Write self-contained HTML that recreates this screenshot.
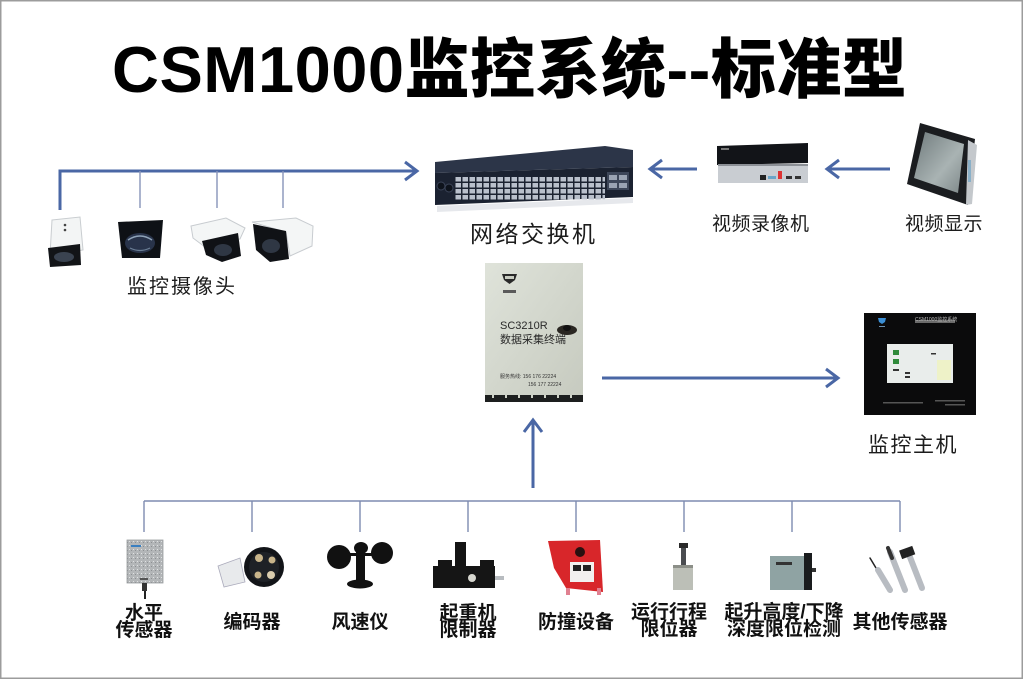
<!DOCTYPE html>
<html><head><meta charset="utf-8">
<style>
html,body{margin:0;padding:0;background:#fff;}
body{width:1024px;height:680px;position:relative;overflow:hidden;font-family:"Liberation Sans","Noto Sans CJK SC",sans-serif;}
.t{position:absolute;white-space:nowrap;color:#1a1a1a;}
.lbl{font-family:"Liberation Sans","Noto Sans CJK SC",sans-serif;font-weight:400;color:#1c1c1c;}
.b{font-family:"Liberation Sans","Noto Sans CJK SC",sans-serif;font-weight:700;color:#111;font-size:19px;line-height:17px;text-align:center;}
svg{position:absolute;left:0;top:0;}
</style></head><body>
<svg width="1024" height="680" viewBox="0 0 1024 680">
<defs>
<pattern id="ports" x="455" y="176" width="7" height="12" patternUnits="userSpaceOnUse">
<rect x="0.5" y="1" width="5.5" height="4.5" fill="#b9c0cc"/>
<rect x="0.5" y="7" width="5.5" height="4.5" fill="#b9c0cc"/>
</pattern>
<linearGradient id="scr" x1="0" y1="0" x2="1" y2="1">
<stop offset="0" stop-color="#6f7a7c"/><stop offset="0.6" stop-color="#a9b3b3"/><stop offset="1" stop-color="#7d8788"/>
</linearGradient>
<linearGradient id="term" x1="0" y1="0" x2="1" y2="1">
<stop offset="0" stop-color="#dfe3da"/><stop offset="1" stop-color="#c6cabf"/>
</linearGradient>
<pattern id="speck" width="4" height="4" patternUnits="userSpaceOnUse">
<rect width="4" height="4" fill="#b3b6b8"/><rect x="1" y="1" width="1" height="1" fill="#e0e2e3"/><rect x="3" y="2" width="1" height="1" fill="#8d9093"/>
</pattern>
</defs>
<!-- border -->
<rect x="0.75" y="0.75" width="1021.5" height="677.5" fill="none" stroke="#9c9c9c" stroke-width="1.5"/>

<!-- camera bus -->
<path d="M60,210 V171 H416" fill="none" stroke="#4a67a5" stroke-width="3"/>
<path d="M405,162 L417,171 L405,180" fill="none" stroke="#4a67a5" stroke-width="3"/>
<g stroke="#8793b8" stroke-width="1.4">
<line x1="140" y1="171" x2="140" y2="208"/>
<line x1="217" y1="171" x2="217" y2="208"/>
<line x1="283" y1="171" x2="283" y2="208"/>
</g>

<!-- cameras -->
<g>
<polygon points="52,220 80,217 83,250 50,255" fill="#f3f5f5" stroke="#c9cdd0" stroke-width="1"/>
<circle cx="65" cy="225" r="1.3" fill="#444"/><circle cx="65" cy="230" r="1.3" fill="#444"/>
<polygon points="48,248 80,244 81,265 50,267" fill="#121417"/>
<ellipse cx="64" cy="257" rx="10" ry="5" fill="#3a4350"/>
</g>
<g>
<polygon points="118,222 163,220 160,258 122,258" fill="#0e1116"/>
<ellipse cx="140" cy="243" rx="15" ry="10" fill="#28334a"/>
<path d="M128,240 q12,-8 24,0" fill="none" stroke="#8fa3b8" stroke-width="1.5"/>
<path d="M130,248 q10,5 20,0" fill="none" stroke="#6b7f96" stroke-width="1.2"/>
</g>
<g>
<polygon points="191,226 226,218 245,228 240,239 205,247 193,238" fill="#f4f6f6" stroke="#c8ccd0" stroke-width="1"/>
<polygon points="202,241 238,233 241,256 222,262 206,255" fill="#101216"/>
<ellipse cx="223" cy="250" rx="9" ry="6" fill="#2f3744"/>
</g>
<g>
<polygon points="252,222 296,218 313,226 312,246 290,256 286,232" fill="#f4f6f6" stroke="#c8ccd0" stroke-width="1"/>
<polygon points="253,224 286,231 289,259 270,262 256,250" fill="#101216"/>
<ellipse cx="271" cy="246" rx="9" ry="7" fill="#2f3744"/>
</g>

<!-- switch -->
<g>
<polygon points="435,162 605,146 633,150 633,167 435,173" fill="#2c3548"/>
<polygon points="435,173 633,167 633,197 435,205" fill="#1b2231"/>
<rect x="455" y="176" width="150" height="24" fill="url(#ports)"/>
<rect x="607" y="172" width="22" height="18" fill="#3d4659"/>
<rect x="609" y="175" width="8" height="5" fill="#9aa3b3"/><rect x="619" y="175" width="8" height="5" fill="#9aa3b3"/>
<rect x="609" y="183" width="8" height="5" fill="#9aa3b3"/><rect x="619" y="183" width="8" height="5" fill="#9aa3b3"/>
<circle cx="441" cy="186" r="4" fill="#0e131c" stroke="#3b4458"/>
<circle cx="449" cy="188" r="4" fill="#0e131c" stroke="#3b4458"/>
<polygon points="437,206 633,198 633,203 437,212" fill="#e6e8ec"/>
</g>

<!-- NVR -> switch arrow -->
<line x1="697" y1="169" x2="651" y2="169" stroke="#4a67a5" stroke-width="3"/>
<path d="M662,160 L650,169 L662,178" fill="none" stroke="#4a67a5" stroke-width="3"/>

<!-- NVR -->
<g>
<polygon points="717,146 808,143 808,163 717,165" fill="#121418"/>
<rect x="718" y="164" width="90" height="19" fill="#c9cdd2"/>
<rect x="718" y="164" width="90" height="2" fill="#8c9096"/>
<rect x="760" y="175" width="6" height="5" fill="#222"/>
<rect x="768" y="176" width="8" height="3" fill="#6aa5c8"/>
<rect x="778" y="171" width="4" height="8" fill="#d33"/>
<rect x="786" y="176" width="6" height="3" fill="#333"/>
<rect x="795" y="176" width="6" height="3" fill="#333"/>
<rect x="721" y="148" width="8" height="2" fill="#777"/>
</g>

<!-- display -> NVR arrow -->
<line x1="890" y1="169" x2="828" y2="169" stroke="#4a67a5" stroke-width="3"/>
<path d="M839,160 L827,169 L839,178" fill="none" stroke="#4a67a5" stroke-width="3"/>

<!-- tablet display -->
<g>
<polygon points="920,123 975,139 968,205 907,184" fill="#1b1d20"/>
<polygon points="925,132 964,144 958,193 914,178" fill="url(#scr)"/>
<polygon points="968,140 977,145 972,204 966,205" fill="#c4c8cc"/>
<rect x="968" y="160" width="3" height="22" fill="#8ab0c8"/>
</g>

<!-- terminal photo -->
<g>
<rect x="485" y="263" width="98" height="139" fill="url(#term)"/>
<rect x="485" y="395" width="98" height="7" fill="#1d1f1f"/>
<g fill="#cfd3c8"><rect x="492" y="395" width="2" height="3"/><rect x="505" y="395" width="2" height="3"/><rect x="518" y="395" width="2" height="3"/><rect x="531" y="395" width="2" height="3"/><rect x="544" y="395" width="2" height="3"/><rect x="557" y="395" width="2" height="3"/><rect x="570" y="395" width="2" height="3"/></g>
<path d="M502,274 h15 l-2,6 l-5.5,4 l-5.5,-4 z" fill="#2a2a2a"/>
<rect x="505" y="276" width="9" height="3" fill="#c9cdc2"/>
<rect x="503" y="290" width="13" height="3" fill="#5a5a5a"/>
<ellipse cx="567" cy="330" rx="10" ry="5" fill="#2a2722"/>
<ellipse cx="567" cy="328" rx="4" ry="3" fill="#111"/>
</g>

<!-- terminal -> host arrow -->
<line x1="602" y1="378" x2="837" y2="378" stroke="#4a67a5" stroke-width="3"/>
<path d="M826,369 L838,378 L826,387" fill="none" stroke="#4a67a5" stroke-width="3"/>

<!-- host monitor -->
<g>
<rect x="864" y="313" width="112" height="102" fill="#0b0b0c"/>
<rect x="887" y="344" width="66" height="39" fill="#e9edeb"/>
<path d="M878,318 h8 l-1,4 l-3,2 l-3,-2 z" fill="#3b8fd6"/>
<rect x="879" y="326" width="6" height="1" fill="#6a8fb0"/>
<rect x="915" y="320" width="40" height="3" fill="#6b6b6b"/>
<rect x="893" y="350" width="6" height="5" fill="#2f8a3a"/>
<rect x="893" y="359" width="6" height="5" fill="#2f8a3a"/>
<rect x="893" y="369" width="6" height="2" fill="#333"/>
<rect x="905" y="372" width="5" height="2" fill="#333"/>
<rect x="905" y="376" width="5" height="2" fill="#333"/>
<rect x="931" y="353" width="5" height="1.5" fill="#333"/>
<rect x="937" y="360" width="14" height="20" fill="#eef2c8"/>
<rect x="883" y="402" width="40" height="1.5" fill="#555"/>
<rect x="935" y="400" width="30" height="1.5" fill="#555"/>
<rect x="945" y="404" width="20" height="1.5" fill="#555"/>
</g>

<!-- up arrow -->
<line x1="533" y1="488" x2="533" y2="421" stroke="#4a67a5" stroke-width="3"/>
<path d="M524,432 L533,420 L542,432" fill="none" stroke="#4a67a5" stroke-width="3"/>

<!-- bottom bus -->
<line x1="144" y1="501" x2="900" y2="501" stroke="#7e8bb0" stroke-width="1.6"/>
<g stroke="#7e8bb0" stroke-width="1.4">
<line x1="144" y1="501" x2="144" y2="532"/>
<line x1="252" y1="501" x2="252" y2="532"/>
<line x1="360" y1="501" x2="360" y2="532"/>
<line x1="468" y1="501" x2="468" y2="532"/>
<line x1="576" y1="501" x2="576" y2="532"/>
<line x1="684" y1="501" x2="684" y2="532"/>
<line x1="792" y1="501" x2="792" y2="532"/>
<line x1="900" y1="501" x2="900" y2="532"/>
</g>

<!-- sensor 1 level -->
<g>
<rect x="127" y="540" width="36" height="43" fill="url(#speck)" stroke="#9a9da0" stroke-width="0.8"/>
<rect x="131" y="545" width="10" height="2" fill="#3a7fc0"/>
<rect x="140" y="578" width="8" height="2" fill="#555"/>
<rect x="142" y="583" width="5" height="8" fill="#333"/>
<rect x="144" y="591" width="2" height="8" fill="#222"/>
</g>
<!-- sensor 2 encoder -->
<g>
<polygon points="218,566 240,558 245,582 224,587" fill="#e8eaec" stroke="#aab" stroke-width="0.8"/>
<circle cx="264" cy="567" r="20" fill="#121418"/>
<circle cx="264" cy="567" r="15" fill="#1e2126"/>
<circle cx="259" cy="558" r="4" fill="#c8b48a"/>
<circle cx="272" cy="560" r="3.5" fill="#c8b48a"/>
<circle cx="258" cy="575" r="3.5" fill="#c8b48a"/>
<circle cx="271" cy="575" r="4" fill="#d9ccae"/>
</g>
<!-- sensor 3 anemometer -->
<g fill="#111">
<circle cx="339" cy="557" r="12"/>
<circle cx="382" cy="553" r="11"/>
<ellipse cx="361" cy="548" rx="7" ry="6"/>
<rect x="356" y="552" width="9" height="28"/>
<ellipse cx="360" cy="584" rx="13" ry="4.5"/>
<rect x="345" y="553" width="36" height="3"/>
</g>
<!-- sensor 4 limiter -->
<g>
<rect x="455" y="542" width="11" height="26" fill="#141414"/>
<rect x="433" y="566" width="62" height="22" fill="#151515"/>
<rect x="438" y="560" width="14" height="8" fill="#151515"/>
<rect x="480" y="560" width="14" height="8" fill="#151515"/>
<circle cx="472" cy="578" r="4" fill="#d7d7d0"/>
<rect x="495" y="576" width="9" height="4" fill="#b8bcc0"/>
</g>
<!-- sensor 5 red -->
<g>
<polygon points="548,541 600,540 603,592 566,588 554,568" fill="#d8262a"/>
<circle cx="580" cy="552" r="5" fill="#2a1010"/>
<rect x="570" y="562" width="24" height="20" fill="#f2f0ef"/>
<rect x="573" y="565" width="8" height="6" fill="#222"/>
<rect x="583" y="565" width="8" height="6" fill="#222"/>
<rect x="566" y="588" width="4" height="7" fill="#e08090"/>
<rect x="597" y="588" width="4" height="7" fill="#e08090"/>
</g>
<!-- sensor 6 limit switch -->
<g>
<rect x="681" y="543" width="5" height="22" fill="#4a4c50"/>
<rect x="679" y="543" width="9" height="5" fill="#2a2a2a"/>
<rect x="673" y="565" width="20" height="25" fill="#bcbfb7"/>
<rect x="673" y="565" width="20" height="3" fill="#8c8f88"/>
</g>
<!-- sensor 7 height encoder -->
<g>
<rect x="770" y="556" width="36" height="34" fill="#8fa3a3"/>
<rect x="776" y="562" width="16" height="3" fill="#333"/>
<rect x="804" y="553" width="8" height="37" fill="#1a1c1e"/>
<rect x="812" y="568" width="4" height="4" fill="#333"/>
</g>
<!-- sensor 8 other -->
<g stroke-linecap="round">
<line x1="870" y1="558" x2="888" y2="588" stroke="#222" stroke-width="1.5"/>
<line x1="878" y1="570" x2="890" y2="590" stroke="#b8bcc2" stroke-width="6"/>
<line x1="890" y1="552" x2="905" y2="590" stroke="#b8bcc2" stroke-width="6"/>
<line x1="888" y1="548" x2="892" y2="558" stroke="#333" stroke-width="4"/>
<line x1="908" y1="552" x2="922" y2="588" stroke="#b8bcc2" stroke-width="6"/>
<rect x="900" y="548" width="14" height="9" fill="#222" transform="rotate(-20 907 552)"/>
</g>
</svg>

<!-- title -->
<div class="t" style="left:112px;top:37px;font-size:65px;line-height:65px;font-weight:900;color:#000;letter-spacing:0.5px;">CSM1000监控系统--标准型</div>

<!-- top labels -->
<div class="t lbl" style="left:127px;top:277px;font-size:20px;line-height:20px;letter-spacing:2px;">监控摄像头</div>
<div class="t lbl" style="left:470px;top:223px;font-size:23px;line-height:23px;letter-spacing:2.5px;">网络交换机</div>
<div class="t lbl" style="left:712px;top:215px;font-size:19px;line-height:19px;letter-spacing:0.5px;">视频录像机</div>
<div class="t lbl" style="left:905px;top:215px;font-size:19px;line-height:19px;letter-spacing:0.5px;">视频显示</div>
<div class="t lbl" style="left:868px;top:435px;font-size:21px;line-height:21px;letter-spacing:1.5px;">监控主机</div>

<!-- terminal text -->
<div class="t" style="left:500px;top:321px;font-size:11px;line-height:11px;color:#2a2a2a;font-family:'Liberation Sans',sans-serif;">SC3210R</div>
<div class="t" style="left:500px;top:335px;font-size:11px;line-height:11px;color:#2a2a2a;">数据采集终端</div>
<div class="t" style="left:500px;top:375px;font-size:5px;line-height:5px;color:#333;">服务热线: 156 176 22224</div>
<div class="t" style="left:528px;top:383px;font-size:5px;line-height:5px;color:#333;">156 177 22224</div>
<div class="t" style="left:915px;top:318px;font-size:5px;line-height:5px;color:#bbb;">CSM1000监控系统</div>

<!-- bottom labels -->
<div class="t b" style="left:104px;top:605px;width:80px;">水平<br>传感器</div>
<div class="t b" style="left:212px;top:613px;width:80px;line-height:19px;">编码器</div>
<div class="t b" style="left:320px;top:613px;width:80px;line-height:19px;">风速仪</div>
<div class="t b" style="left:428px;top:605px;width:80px;">起重机<br>限制器</div>
<div class="t b" style="left:526px;top:613px;width:100px;line-height:19px;">防撞设备</div>
<div class="t b" style="left:619px;top:604px;width:100px;">运行行程<br>限位器</div>
<div class="t b" style="left:714px;top:604px;width:140px;">起升高度/下降<br>深度限位检测</div>
<div class="t b" style="left:840px;top:613px;width:120px;line-height:19px;">其他传感器</div>
</body></html>
